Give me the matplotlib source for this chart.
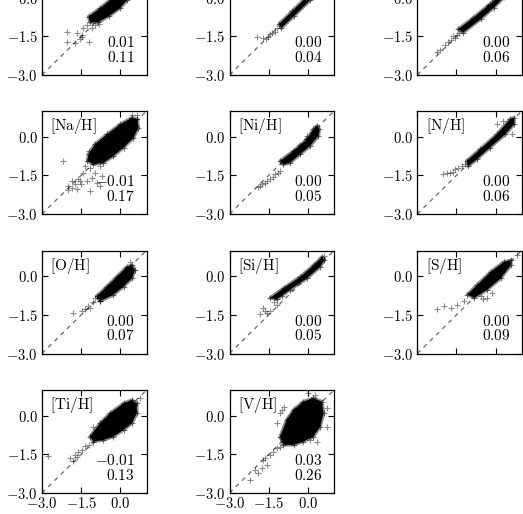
import matplotlib
matplotlib.use("Agg")
import matplotlib.pyplot as plt

plt.rcParams['mathtext.fontset'] = 'cm'
plt.rcParams['font.family'] = 'serif'

# ---------------- data ----------------
labels = ["[Fe/H]", "[Mg/H]", "[Mn/H]",
          "[Na/H]", "[Ni/H]", "[N/H]",
          "[O/H]", "[Si/H]", "[S/H]",
          "[Ti/H]", "[V/H]"]
bias = ["0.01", "0.00", "0.00",
        "-0.01", "0.00", "0.00",
        "0.00", "0.00", "0.00",
        "-0.01", "0.03"]
scatter = ["0.11", "0.04", "0.06",
           "0.17", "0.05", "0.06",
           "0.07", "0.05", "0.09",
           "0.13", "0.26"]

tick_values = [-3.0, -1.5, 0.0]
tick_labels = ["$-3.0$", "$-1.5$", "$0.0$"]
axis_range = [-3.0, 1.0]

# dense cores (outline of the saturated region) and sparse points, per panel
fe_core_x = [-1.22, -0.78, -0.35, 0.10, 0.60, 0.80, 0.60, 0.25, -0.01, -0.45, -0.85, -1.16]
fe_core_y = [-0.73, -0.41, -0.05, 0.40, 0.80, 0.70, 0.30, -0.10, -0.40, -0.72, -0.95, -0.95]
fe_out_x = [-2.05, -1.67, -2.05, -1.74, -1.48, -1.22, -1.42, -1.29, -1.10, -0.97, -1.48, -1.55, -0.80]
fe_out_y = [-1.32, -1.38, -1.71, -1.74, -1.54, -1.71, -1.19, -1.06, -1.19, -1.06, -1.45, -1.62, -1.00]

mg_core_x = [-1.10, -0.60, 0.00, 0.60, 0.68, 0.08, -0.52, -1.02]
mg_core_y = [-1.02, -0.52, 0.08, 0.68, 0.52, -0.10, -0.70, -1.18]
mg_out_x = [-1.96, -1.70, -1.51, -1.62, -1.38, -1.26, -1.19, -1.45]
mg_out_y = [-1.51, -1.58, -1.51, -1.62, -1.38, -1.32, -1.19, -1.42]

mn_core_x = [-1.43, -0.85, -0.22, 0.40, 0.75, 0.78, 0.32, -0.07, -0.58, -1.24]
mn_core_y = [-1.22, -0.77, -0.25, 0.28, 0.68, 0.42, 0.02, -0.38, -0.83, -1.35]
mn_out_x = [-1.94, -1.81, -1.56, -1.70, -1.49, -2.13, -2.25, -1.40, -1.65]
mn_out_y = [-1.83, -1.71, -1.58, -1.66, -1.45, -2.03, -2.10, -1.38, -1.50]

na_core_x = [-1.22, -0.97, -0.52, -0.01, 0.44, 0.65, 0.69, 0.50, 0.12, -0.27, -0.65, -1.03, -1.26]
na_core_y = [-0.68, -0.29, 0.09, 0.48, 0.74, 0.68, 0.35, -0.04, -0.42, -0.75, -1.01, -1.07, -0.94]
na_out_x = [-2.18, -1.35, -1.16, -0.97, -0.78, -0.71, -1.54, -1.74, -1.86, -1.67, -1.29, -1.16,
            -0.91, -0.78, -1.42, -1.86, -1.99, -1.61, -1.10, -1.22, 0.44, 0.62, -1.50, -2.00]
na_out_y = [-0.94, -1.14, -1.20, -1.39, -1.14, -1.52, -1.72, -1.85, -1.98, -2.04, -1.72, -2.11,
            -1.78, -1.91, -1.39, -1.72, -1.91, -1.65, -1.59, -0.55, 0.84, 0.85, -1.85, -2.05]

ni_core_x = [-1.06, -0.55, -0.04, 0.21, 0.34, 0.44, 0.40, 0.08, -0.30, -0.68, -0.94]
ni_core_y = [-0.94, -0.55, -0.10, 0.29, 0.42, 0.29, 0.03, -0.36, -0.68, -1.01, -1.07]
ni_out_x = [-1.83, -1.64, -1.45, -1.26, -1.07, -1.75, -1.55, -1.35, -1.16, -0.04, -1.90]
ni_out_y = [-1.91, -1.78, -1.65, -1.46, -1.33, -1.85, -1.70, -1.55, -1.40, 0.03, -1.95]

n_core_x = [-1.11, -0.60, 0.04, 0.55, 0.70, 0.70, 0.36, -0.22, -0.73, -1.05]
n_core_y = [-0.94, -0.49, 0.09, 0.68, 0.74, 0.48, 0.09, -0.42, -0.88, -1.14]
n_out_x = [-2.00, -1.75, -1.56, -1.43, -1.30, -1.18, 0.04, 0.29, 0.61, -1.62, -1.88]
n_out_y = [-1.46, -1.40, -1.27, -1.22, -1.15, -1.05, 0.48, 0.61, 0.09, -1.35, -1.42]

o_core_x = [-0.91, -0.52, -0.14, 0.24, 0.44, 0.56, 0.44, 0.12, -0.27, -0.78]
o_core_y = [-0.78, -0.40, -0.02, 0.36, 0.43, 0.24, -0.08, -0.40, -0.72, -0.97]
o_out_x = [-1.80, -1.48, -1.35, -1.16, -0.97, -0.78, 0.37, -1.05, -1.25]
o_out_y = [-1.44, -1.35, -1.28, -1.25, -0.84, -0.97, 0.55, -1.00, -1.15]

si_core_x = [-1.44, -0.93, -0.29, 0.22, 0.54, 0.63, 0.47, -0.04, -0.68, -1.19]
si_core_y = [-0.84, -0.46, -0.02, 0.43, 0.75, 0.62, 0.37, -0.08, -0.52, -0.90]
si_out_x = [-1.57, -1.64, -1.44, -1.19, -1.83, -1.70, -0.99, 0.60, -1.30]
si_out_y = [-1.41, -1.35, -1.35, -1.10, -1.48, -1.22, -0.78, 0.80, -1.00]

s_core_x = [-1.08, -0.70, -0.19, 0.32, 0.58, 0.58, 0.19, -0.32, -0.83]
s_core_y = [-0.71, -0.33, 0.17, 0.56, 0.62, 0.43, -0.08, -0.52, -0.84]
s_out_x = [-0.57, -0.32, -0.13, -0.50, -1.21, -1.47, -1.72, -2.23, -1.98, 0.83]
s_out_y = [-0.78, -0.84, -0.65, -0.90, -0.97, -1.10, -1.22, -1.29, -1.15, 0.81]

ti_core_x = [-1.16, -0.78, -0.39, 0.12, 0.44, 0.63, 0.63, 0.44, 0.12, -0.27, -0.65, -1.03]
ti_core_y = [-0.81, -0.29, 0.10, 0.48, 0.61, 0.48, 0.10, -0.29, -0.55, -0.81, -0.94, -1.00]
ti_out_x = [-2.76, -1.93, -1.74, -1.61, -1.48, -1.35, -1.22, -1.67, -1.80, -1.10, -1.03, -0.91, 0.75]
ti_out_y = [-1.55, -1.65, -1.52, -1.42, -1.32, -1.19, -1.12, -1.60, -1.75, -0.75, -0.42, -0.55, 0.68]

v_core_x = [-1.06, -0.81, -0.55, -0.17, 0.21, 0.53, 0.60, 0.47, 0.21, -0.17, -0.55, -0.94]
v_core_y = [-0.81, -0.16, 0.23, 0.55, 0.68, 0.55, 0.10, -0.42, -0.81, -1.00, -1.13, -1.13]
v_out_x = [-2.22, -1.90, -2.03, -1.77, -1.58, -1.64, -1.45, -1.32, -1.70, -1.19, -1.06,
           -1.19, -1.06, -1.00, -0.93, 0.02, 0.28, 0.72, 0.72, 0.08, 0.34]
v_out_y = [-2.48, -2.23, -2.10, -2.03, -1.90, -1.65, -1.52, -1.39, -1.72, -1.26, -1.20,
           -0.29, 0.10, 0.23, 0.35, 0.87, 0.81, 0.29, -0.42, -0.94, -1.00]

cores = [(fe_core_x, fe_core_y), (mg_core_x, mg_core_y), (mn_core_x, mn_core_y),
         (na_core_x, na_core_y), (ni_core_x, ni_core_y), (n_core_x, n_core_y),
         (o_core_x, o_core_y), (si_core_x, si_core_y), (s_core_x, s_core_y),
         (ti_core_x, ti_core_y), (v_core_x, v_core_y)]
outs = [(fe_out_x, fe_out_y), (mg_out_x, mg_out_y), (mn_out_x, mn_out_y),
        (na_out_x, na_out_y), (ni_out_x, ni_out_y), (n_out_x, n_out_y),
        (o_out_x, o_out_y), (si_out_x, si_out_y), (s_out_x, s_out_y),
        (ti_out_x, ti_out_y), (v_out_x, v_out_y)]

# ---------------- layout ----------------
W, H = 523, 514
fig = plt.figure(figsize=(W / 100, H / 100), dpi=100)
col_left = [42.0, 229.5, 417.3]
row_bottom = [75.0, 214.0, 353.5, 493.0]
aw, ah = 104.5, 103.0

for i, lab in enumerate(labels):
    r, c = divmod(i, 3)
    ax = fig.add_axes([col_left[c] / W, 1 - row_bottom[r] / H, aw / W, ah / H])
    ax.plot(axis_range, axis_range, color='0.4', lw=0.9, dashes=(3.5, 3.5), zorder=1)
    cx, cy = cores[i]
    ax.fill(cx, cy, facecolor='black', edgecolor=(0, 0, 0, 0.45), lw=2.5,
            joinstyle='round', zorder=2)
    ax.scatter(cx, cy, marker='+', s=18, c='black', alpha=0.5, linewidths=0.8, zorder=3)
    ox, oy = outs[i]
    ax.scatter(ox, oy, marker='+', s=18, c='black', alpha=0.45, linewidths=0.8, zorder=3)
    ax.set_xlim(axis_range)
    ax.set_ylim(axis_range)
    ax.set_xticks(tick_values)
    ax.set_yticks(tick_values)
    ax.set_yticklabels(tick_labels)
    if r == 3:
        ax.set_xticklabels(tick_labels)
    else:
        ax.set_xticklabels([])
    ax.tick_params(direction='in', top=True, right=True, length=4, width=0.8,
                   labelsize=10.5, pad=3)
    ax.tick_params(axis='x', pad=2)
    for sp in ax.spines.values():
        sp.set_linewidth(0.9)
    ax.text(0.08, 0.85, r'$\mathrm{' + lab + '}$', transform=ax.transAxes,
            fontsize=11, ha='left', va='center')
    ax.text(0.89, 0.10, '$' + bias[i] + '$\n$' + scatter[i] + '$', transform=ax.transAxes,
            fontsize=11, ha='right', va='bottom', linespacing=0.95, multialignment='right')

fig.savefig('out.png', dpi=100)
